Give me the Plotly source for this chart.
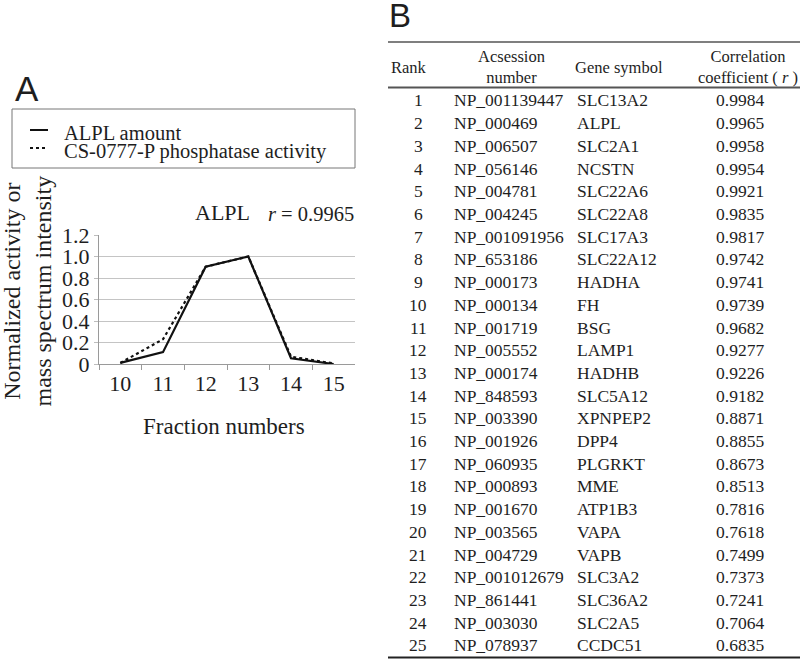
import plotly.graph_objects as go

# ---------------- data ----------------
fractions = ["10", "11", "12", "13", "14", "15"]
alpl_amount = [0.01, 0.11, 0.905, 1.0, 0.053, 0.0]
phosphatase_activity = [0.01, 0.23, 0.905, 1.0, 0.068, 0.005]
y_tick_vals = [0, 0.2, 0.4, 0.6, 0.8, 1.0, 1.2]
y_tick_text = ["0", "0.2", "0.4", "0.6", "0.8", "1.0", "1.2"]
panel_r = "0.9965"

ranks = ["1", "2", "3", "4", "5", "6", "7", "8", "9", "10", "11", "12", "13",
         "14", "15", "16", "17", "18", "19", "20", "21", "22", "23", "24", "25"]
accessions = ["NP_001139447", "NP_000469", "NP_006507", "NP_056146", "NP_004781",
              "NP_004245", "NP_001091956", "NP_653186", "NP_000173", "NP_000134",
              "NP_001719", "NP_005552", "NP_000174", "NP_848593", "NP_003390",
              "NP_001926", "NP_060935", "NP_000893", "NP_001670", "NP_003565",
              "NP_004729", "NP_001012679", "NP_861441", "NP_003030", "NP_078937"]
genes = ["SLC13A2", "ALPL", "SLC2A1", "NCSTN", "SLC22A6", "SLC22A8", "SLC17A3",
         "SLC22A12", "HADHA", "FH", "BSG", "LAMP1", "HADHB", "SLC5A12", "XPNPEP2",
         "DPP4", "PLGRKT", "MME", "ATP1B3", "VAPA", "VAPB", "SLC3A2", "SLC36A2",
         "SLC2A5", "CCDC51"]
r_values = ["0.9984", "0.9965", "0.9958", "0.9954", "0.9921", "0.9835", "0.9817",
            "0.9742", "0.9741", "0.9739", "0.9682", "0.9277", "0.9226", "0.9182",
            "0.8871", "0.8855", "0.8673", "0.8513", "0.7816", "0.7618", "0.7499",
            "0.7373", "0.7241", "0.7064", "0.6835"]

# ---------------- layout helpers ----------------
W, H = 800, 659
SERIF = "Liberation Serif"
SANS = "Liberation Sans"
TXT = "#1e1e1e"


def px(x):
    return x / W


def py(y):
    return 1 - y / H


annotations = []
shapes = []


def text(x, y, s, size, xanchor="center", yanchor="middle", font=SERIF, angle=0, color=TXT):
    annotations.append(dict(
        x=px(x), y=py(y), xref="paper", yref="paper", text=s, showarrow=False,
        xanchor=xanchor, yanchor=yanchor, textangle=angle,
        font=dict(family=font, size=size, color=color), align="center"))


fig = go.Figure()

fig.add_trace(go.Scatter(
    x=fractions, y=alpl_amount, mode="lines", name="ALPL amount",
    line=dict(color="#111111", width=2.2), showlegend=False))
fig.add_trace(go.Scatter(
    x=fractions, y=phosphatase_activity, mode="lines",
    name="CS-0777-P phosphatase activity",
    line=dict(color="#111111", width=2.2, dash="dot"), showlegend=False))

# ---------------- panel A decorations ----------------
text(13, 110, "A", 35, xanchor="left", yanchor="bottom", font=SANS)

# legend box
shapes.append(dict(type="rect", xref="paper", yref="paper",
                   x0=px(12), x1=px(355), y0=py(168), y1=py(109),
                   line=dict(color="#777777", width=1)))
shapes.append(dict(type="line", xref="paper", yref="paper",
                   x0=px(30), x1=px(48), y0=py(130), y1=py(130),
                   line=dict(color="#111111", width=2)))
shapes.append(dict(type="line", xref="paper", yref="paper",
                   x0=px(30), x1=px(48), y0=py(148), y1=py(148),
                   line=dict(color="#111111", width=2, dash="dot")))
text(62, 133, "ALPL amount", 20.5, xanchor="left")
text(62, 152, "CS-0777-P phosphatase activity", 20.5, xanchor="left")

# title
text(222, 213, "ALPL", 22)
text(356, 214, "<i>r</i> = " + panel_r, 20.5, xanchor="right")

# axis titles (two lines of one rotated title)
text(27.5, 291, "Normalized activity or<br>mass spectrum intensity", 24, angle=-90)
text(224, 427, "Fraction numbers", 23)

# ---------------- panel B table ----------------
text(387, 36, "B", 33, xanchor="left", yanchor="bottom", font=SANS)

TL, TR = 388, 800
shapes.append(dict(type="line", xref="paper", yref="paper",
                   x0=px(TL), x1=px(TR), y0=py(42), y1=py(42),
                   line=dict(color="#555555", width=1.5)))
shapes.append(dict(type="line", xref="paper", yref="paper",
                   x0=px(TL), x1=px(TR), y0=py(87.5), y1=py(87.5),
                   line=dict(color="#555555", width=2)))
shapes.append(dict(type="line", xref="paper", yref="paper",
                   x0=px(TL), x1=px(TR), y0=py(657.5), y1=py(657.5),
                   line=dict(color="#222222", width=2)))

HS = 16.5
text(409, 67, "Rank", HS)
text(511, 66.5, "Acsession<br>number", HS)
text(619, 67, "Gene symbol", HS)
text(748, 66.5, "Correlation<br>coefficient ( <i>r</i> )", HS)

ROW0, DY = 100.5, 22.7
BS = 17.5
for i in range(len(ranks)):
    yy = ROW0 + i * DY
    text(418, yy, ranks[i], BS)
    text(452, yy, accessions[i], BS, xanchor="left")
    text(575, yy, genes[i], BS, xanchor="left")
    text(740, yy, r_values[i], BS)

# ---------------- axes ----------------
fig.update_layout(
    width=W, height=H,
    margin=dict(l=0, r=0, t=0, b=0, pad=0, autoexpand=False),
    paper_bgcolor="white", plot_bgcolor="white",
    annotations=annotations, shapes=shapes,
    xaxis=dict(
        type="category", domain=[px(99), px(355)], range=[-0.5, len(fractions) - 0.5],
        tickson="boundaries", ticks="outside", ticklen=5, tickcolor="#9a9a9a",
        showline=True, linecolor="#9a9a9a", linewidth=1, showgrid=False,
        zeroline=False, tickfont=dict(family=SERIF, size=22, color=TXT),
        anchor="y", automargin=False),
    yaxis=dict(
        domain=[py(364), py(235)], range=[0, 1.2],
        tickvals=y_tick_vals, ticktext=y_tick_text,
        ticks="outside", ticklen=4, tickcolor="#bdbdbd",
        showline=True, linecolor="#9a9a9a", linewidth=1,
        showgrid=True, gridcolor="#c4c4c4", gridwidth=1, zeroline=False,
        tickfont=dict(family=SERIF, size=22, color=TXT), anchor="x",
        automargin=False),
)

fig.write_html("out.html", config={"displayModeBar": False},
               post_script="document.body.style.margin='0px';document.body.style.overflow='hidden';")
